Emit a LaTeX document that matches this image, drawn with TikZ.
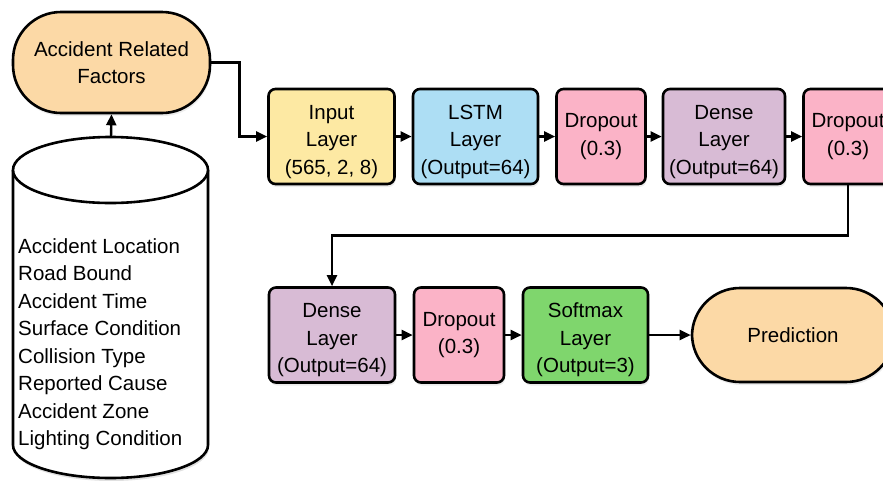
\documentclass[tikz,border=0pt]{standalone}
\usepackage{fontspec}
\setmainfont{Liberation Sans}
\usetikzlibrary{arrows.meta,shadows,calc}
\definecolor{corange}{HTML}{FCD9A6}
\definecolor{cyellow}{HTML}{FDE9A3}
\definecolor{cblue}{HTML}{ADDEF4}
\definecolor{cpink}{HTML}{FBB3C7}
\definecolor{cpurple}{HTML}{D8BBD5}
\definecolor{cgreen}{HTML}{7FD66D}
\newcommand{\tallstrut}{\rule{0pt}{25pt}}
\tikzset{
  txt/.style={font=\fontsize{20.5}{27.5}\selectfont, align=center},
  shad/.style={drop shadow={opacity=0.15, shadow xshift=1pt, shadow yshift=-3pt}},
  layerbox/.style={txt, draw=black, line width=2.6pt, rounded corners=7pt, minimum height=95pt, inner sep=0pt, shad},
  widebox/.style={layerbox, minimum width=126pt},
  dropbox/.style={layerbox, minimum width=89pt, fill=cpink},
  termbox/.style={txt, draw=black, line width=2.6pt, rounded corners=48pt, fill=corange, inner sep=0pt, shad},
  arr/.style={line width=2.4pt, -{Triangle[length=11pt,width=10pt]}}
}
\begin{document}
\begin{tikzpicture}[x=1pt,y=-1pt]
\useasboundingbox (0,0) rectangle (883,480);
\clip (0,0) rectangle (883,480);
% database cylinder
\fill[black,opacity=0.12] (14,173) -- (14,448) arc[start angle=180,end angle=0,x radius=97.5,y radius=33] -- (209,173) -- cycle;
\filldraw[fill=white,line width=2.6pt] (13,170) -- (13,445) arc[start angle=180,end angle=0,x radius=97.5,y radius=33] -- (208,170);
\draw[fill=white,line width=2.6pt] (110.5,170) ellipse[x radius=97.5,y radius=33];
\coordinate (dbtop) at (111,137);
\node[txt, align=left, anchor=west, inner sep=0pt] (factors) at (18,344) {Accident Location\\Road Bound\\Accident Time\\Surface Condition\\Collision Type\\Reported Cause\\Accident Zone\\Lighting Condition};
% terminal nodes
\node[termbox, minimum width=197pt, minimum height=101pt] (arf) at (111.5,62.5) {Accident Related\\Factors};
\node[termbox, minimum width=202pt, minimum height=94pt] (pred) at (793,335) {Prediction};
% first row
\node[widebox, fill=cyellow] (input) at (331.5,136.5) {\tallstrut Input\\Layer\\(565, 2, 8)};
\node[widebox, fill=cblue, minimum width=125pt] (lstm) at (475.5,136.5) {\tallstrut LSTM\\Layer\\(Output=64)};
\node[dropbox] (do1) at (601,136.5) {Dropout\\(0.3)};
\node[widebox, fill=cpurple, minimum width=122pt] (dense1) at (724,136.5) {\tallstrut Dense\\Layer\\(Output=64)};
\node[dropbox] (do2) at (848,136.5) {Dropout\\(0.3)};
% second row
\node[widebox, fill=cpurple] (dense2) at (332,335) {\tallstrut Dense\\Layer\\(Output=64)};
\node[dropbox, minimum width=90pt] (do3) at (459,335) {Dropout\\(0.3)};
\node[widebox, fill=cgreen, minimum width=125pt] (soft) at (585.5,335) {\tallstrut Softmax\\Layer\\(Output=3)};
% connectors
\draw[arr] (dbtop) -- (arf.south);
\draw[arr] (arf.east) -- ++(28,0) |- (input.west);
\draw[arr] (input.east) -- (lstm.west);
\draw[arr] (lstm.east) -- (do1.west);
\draw[arr] (do1.east) -- (dense1.west);
\draw[arr] (dense1.east) -- (do2.west);
\draw[arr] (do2.south) -- ++(0,50) -| (dense2.north);
\draw[arr] (dense2.east) -- (do3.west);
\draw[arr] (do3.east) -- (soft.west);
\draw[arr] (soft.east) -- (pred.west);
\end{tikzpicture}
\end{document}
